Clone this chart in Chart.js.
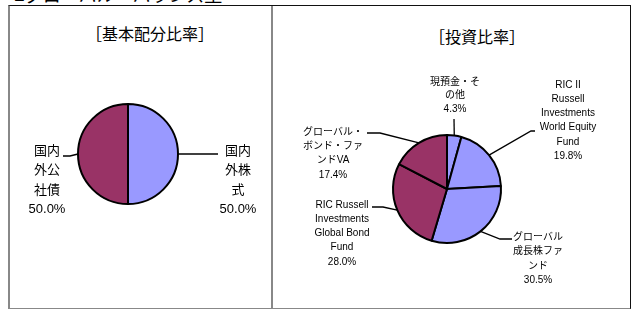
<!DOCTYPE html>
<html>
<head>
<meta charset="utf-8">
<script src="https://cdn.jsdelivr.net/npm/chart.js@4"></script>
<style>
  body { margin: 0; background: #fff; width: 631px; height: 309px; overflow: hidden; position: relative;
         font-family: 'Liberation Sans', 'Noto Sans CJK JP', sans-serif; }
  #header { position: absolute; left: 14px; top: -13px; font-size: 18px; line-height: 18px; color: #000; white-space: nowrap; }
  #frame { position: absolute; left: 8px; top: 5px; width: 620px; height: 302px;
           border-top: 1px solid #111; border-right: 1px solid #111;
           border-left: 2px solid #888; border-bottom: 2px solid #888; }
  #divider { position: absolute; left: 271px; top: 6px; width: 2px; height: 303px; background: #888; }
  .title { position: absolute; font-size: 16px; line-height: 16px; color: #000; white-space: nowrap; transform: translateX(-50%); }
  canvas { position: absolute; top: 0; }
</style>
</head>
<body>
<div id="header">■グローバル・バランス型</div>
<div id="frame"></div>
<div id="divider"></div>
<div class="title" style="left:150px; top:27px;">［基本配分比率］</div>
<div class="title" style="left:477px; top:30px;">［投資比率］</div>
<canvas id="basePie" width="272" height="309" style="left:0"></canvas>
<canvas id="investPie" width="359" height="309" style="left:272px"></canvas>
<script>
// 基本配分比率
const baseLabels = [['国内', '外株', '式'], ['国内', '外公', '社債']];
const baseValues = [50.0, 50.0];

// 投資比率
const investLabels = [
  ['現預金・そ', 'の他'],
  ['RIC II', 'Russell', 'Investments', 'World Equity', 'Fund'],
  ['グローバル', '成長株ファ', 'ンド'],
  ['RIC Russell', 'Investments', 'Global Bond', 'Fund'],
  ['グローバル・', 'ボンド・ファ', 'ンドVA']
];
const investValues = [4.3, 19.8, 30.5, 28.0, 17.4];

const BLUE = '#9999ff';
const MAROON = '#993366';
const baseColors = [BLUE, MAROON];
const investColors = [BLUE, BLUE, BLUE, MAROON, MAROON];

// label placement, offsets from the pie centre (px)
// tx/ty: centre of first text line, ax/ay: leader elbow, hx: end of horizontal leader
const baseCallouts = [
  { tx: 110, ty: -3, ax: 90, ay: 0, hx: 90, lh: 19.5 },
  { tx: -81, ty: -3, ax: -58, ay: 2, hx: -65, lh: 19.5 }
];
const investCallouts = [
  { tx: 8, ty: -107, ax: 7, ay: -70, hx: 7, lh: 13.7 },
  { tx: 121, ty: -104, ax: 84, ay: -58, hx: 88, lh: 14.2 },
  { tx: 91, ty: 48, ax: 53, ay: 50, hx: 65, lh: 14.5 },
  { tx: -105, ty: 16, ax: -64, ay: 18, hx: -75, lh: 14.2 },
  { tx: -114, ty: -57, ax: -67, ay: -56, hx: -80, lh: 14.3 }
];

const calloutPlugin = {
  id: 'callouts',
  afterDatasetsDraw(chart, args, opts) {
    const ctx = chart.ctx;
    const meta = chart.getDatasetMeta(0);
    const values = chart.data.datasets[0].data;
    ctx.save();
    meta.data.forEach((arc, i) => {
      const p = arc.getProps(['x', 'y', 'startAngle', 'endAngle', 'outerRadius'], true);
      const mid = (p.startAngle + p.endAngle) / 2;
      const ex = p.x + Math.cos(mid) * p.outerRadius;
      const ey = p.y + Math.sin(mid) * p.outerRadius;
      const c = opts.layout[i];
      ctx.strokeStyle = '#000';
      ctx.lineWidth = 1.3;
      ctx.beginPath();
      ctx.moveTo(ex, ey);
      ctx.lineTo(p.x + c.ax, p.y + c.ay);
      ctx.lineTo(p.x + c.hx, p.y + c.ay);
      ctx.stroke();

      const lines = chart.data.labels[i].concat([values[i].toFixed(1) + '%']);
      ctx.fillStyle = '#000';
      ctx.font = opts.font;
      ctx.textAlign = 'center';
      ctx.textBaseline = 'middle';
      lines.forEach((t, k) => {
        ctx.fillText(t, p.x + c.tx, p.y + c.ty + k * c.lh);
      });
    });
    ctx.restore();
  }
};

function makePie(id, labels, values, colors, padding, callouts, font) {
  return new Chart(document.getElementById(id), {
    type: 'pie',
    data: {
      labels: labels,
      datasets: [{
        data: values,
        backgroundColor: colors,
        borderColor: '#000',
        borderWidth: 2
      }]
    },
    options: {
      responsive: false,
      animation: false,
      layout: { padding: padding },
      plugins: {
        legend: { display: false },
        tooltip: { enabled: false },
        callouts: { layout: callouts, font: font }
      }
    },
    plugins: [calloutPlugin]
  });
}

makePie('basePie', baseLabels, baseValues, baseColors,
  { left: 77, top: 103, right: 93, bottom: 104 }, baseCallouts,
  "13px 'Liberation Sans', 'Noto Sans CJK JP', sans-serif");

makePie('investPie', investLabels, investValues, investColors,
  { left: 120, top: 134, right: 129, bottom: 65 }, investCallouts,
  "10px 'Liberation Sans', 'Noto Sans CJK JP', sans-serif");
</script>
</body>
</html>
